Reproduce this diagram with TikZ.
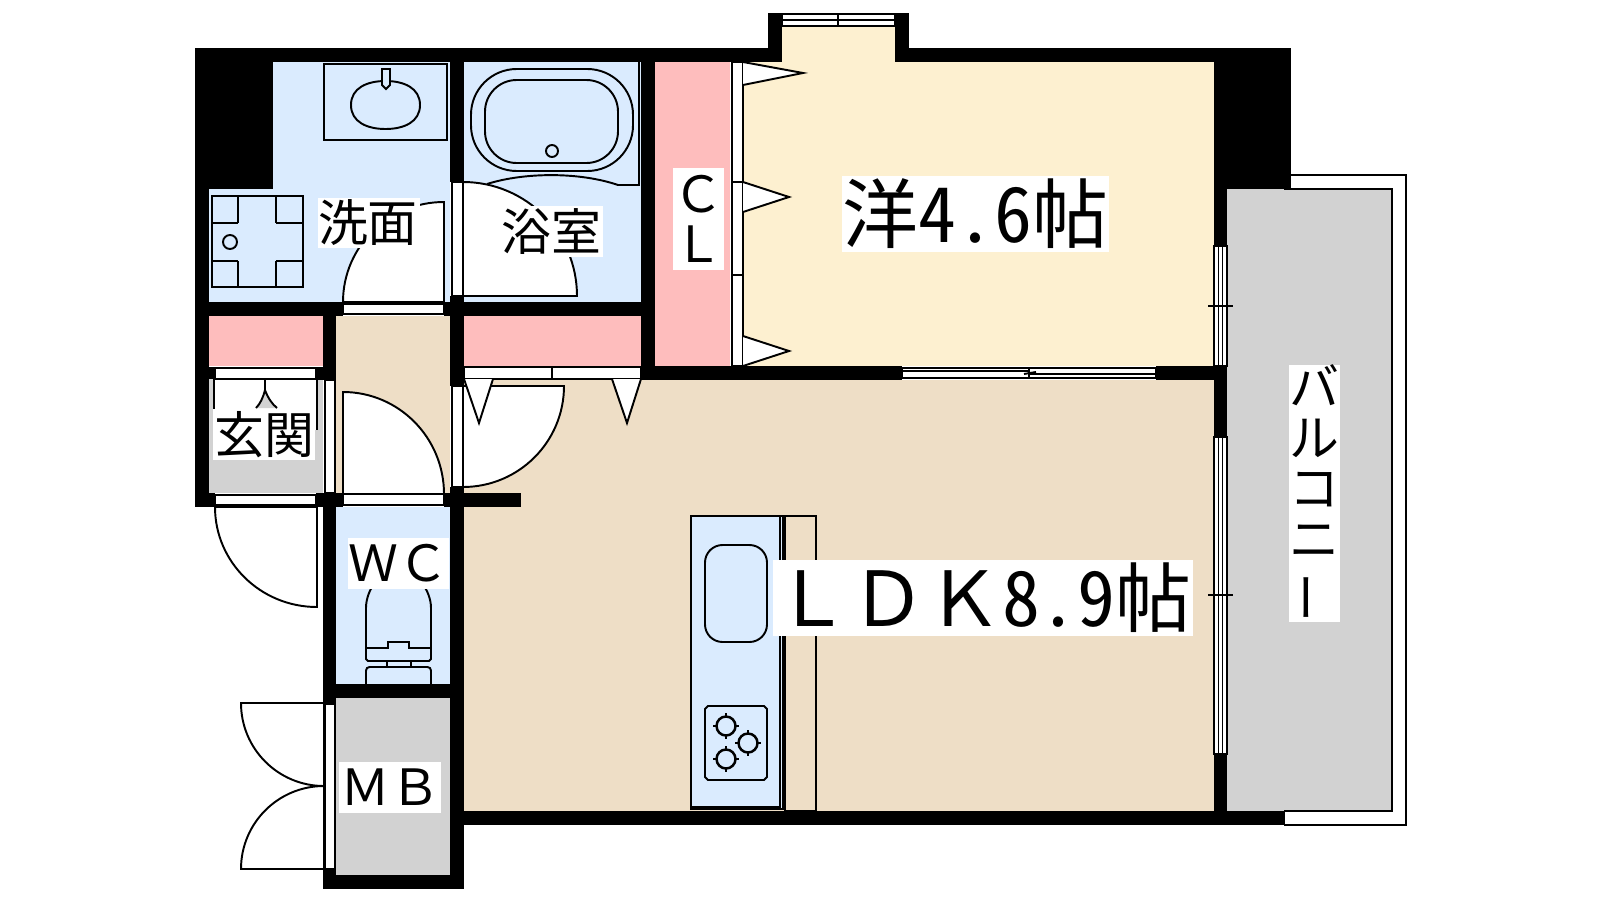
\documentclass[tikz,border=0pt]{standalone}
\usepackage{fontspec}
\newfontfamily\jpfont{Noto Sans CJK JP}
\newfontfamily\halffont[RawFeature={+hwid}]{Noto Sans CJK JP}
\usepackage{tikz}
\definecolor{washblue}{HTML}{DAEBFE}
\definecolor{floorbeige}{HTML}{EEDEC6}
\definecolor{roomcream}{HTML}{FDF0D0}
\definecolor{closetpink}{HTML}{FEBDBD}
\definecolor{slabgray}{HTML}{D2D2D2}
\tikzstyle{line}=[draw=black, line width=0.55pt]
\tikzstyle{frame}=[fill=white, draw=black, line width=0.55pt]
\tikzstyle{roomtag}=[fill=white, inner sep=0pt, font=\jpfont\fontsize{14.2}{14.4}\selectfont, align=center, text=black]
\tikzstyle{bigtag}=[fill=white, inner sep=0pt, font=\jpfont\fontsize{21.6}{22}\selectfont, text=black, minimum height=76*0.01cm]
% door leaf: hinge x, hinge y, reach in x, reach in y
\newcommand{\doorleaf}[4]{
  \draw[frame] (#1,#2) -- (#1,{#2+#4})
    .. controls ({#1+.5523*#3},{#2+#4}) and ({#1+#3},{#2+.5523*#4}) .. ({#1+#3},#2) -- cycle;
}

\begin{document}
\begin{tikzpicture}[x=0.01cm, y=-0.01cm]
        \useasboundingbox (0,0) rectangle (1600,900);

        % Floors
        \fill[floorbeige] (464,380) rectangle (1214,811);
        \fill[floorbeige] (336,316) rectangle (450,493);
        \fill[roomcream] (743,62) rectangle (1214,366);
        \fill[roomcream] (782,27) rectangle (895,62);
        \fill[washblue] (273,62) -- (450,62) -- (450,302) -- (209,302) -- (209,189) -- (273,189) -- cycle;
        \fill[washblue] (464,62) rectangle (641,302);
        \fill[washblue] (336,507) rectangle (450,684);
        \fill[closetpink] (655,62) rectangle (730,366);
        \fill[closetpink] (209,316) rectangle (323,366);
        \fill[closetpink] (464,316) rectangle (641,366);
        \fill[slabgray] (209,379) rectangle (323,493);
        \fill[slabgray] (336,698) rectangle (450,875);
        \fill[slabgray] (1227,189) rectangle (1392,811);

        % Balcony rail
        \draw[line] (1291,175) -- (1406,175) -- (1406,825) -- (1284,825);
        \draw[line] (1284,189) -- (1392,189) -- (1392,811) -- (1284,811);

        % Entrance shoe closet
        \fill[white] (214,379) rectangle (317,430);
        \draw[line] (214,379) -- (214,409);
        \draw[line] (317,379) -- (317,430);
        \fill[slabgray] (265,390) .. controls (263,398) and (260,404) .. (256,408) -- (277,408)
          .. controls (272,404) and (268,398) .. (265,390) -- cycle;
        \draw[line] (256,408) .. controls (260,404) and (263,398) .. (265,390) -- (265,379)
          (265,390) .. controls (268,398) and (272,404) .. (277,408);

        % Doors
        \doorleaf{444}{302}{-101}{-100}
        \doorleaf{463}{296}{114}{-114}
        \doorleaf{343}{494}{101}{-102}
        \doorleaf{463}{386}{101}{101}
        \doorleaf{317}{507}{-102}{100}
        \doorleaf{324}{703}{-83}{83}
        \doorleaf{324}{869}{-83}{-83}

        % Walls
        \foreach \xa/\ya/\xb/\yb in {195/48/782/62, 895/48/1291/62, 768/13/782/62, 895/13/909/62,
            195/48/273/189, 195/48/209/507, 1214/48/1291/189, 1214/48/1227/246, 1214/366/1227/437,
            1214/754/1227/825, 450/811/1285/825, 209/302/343/316, 444/302/655/316, 323/302/336/380,
            316/367/336/380, 209/367/215/379, 450/48/464/182, 450/296/464/386, 641/48/655/380,
            641/366/902/380, 1156/366/1214/380, 195/493/215/507, 316/493/343/507, 444/493/521/507,
            323/493/336/703, 323/869/336/889, 450/487/464/889, 323/684/464/698, 323/875/464/889}
          \fill[black] (\xa,\ya) rectangle (\xb,\yb);

        % Door and closet frames
        \foreach \xa/\ya/\xb/\yb in {343/304/444/314, 452/182/463/296, 215/368/316/379, 325/380/335/493,
            452/386/463/487, 464/367/552/379, 552/367/641/379, 215/495/316/505, 343/494/444/505,
            325/704/335/869, 732/62/743/182, 732/182/743/275, 732/275/743/366}
          \draw[frame] (\xa,\ya) rectangle (\xb,\yb);

        % Folding door leaves
        \draw[frame] (743,62) -- (803,73) -- (743,85);
        \draw[frame] (743,182) -- (789,197) -- (743,212);
        \draw[frame] (743,336) -- (789,351) -- (743,366);
        \draw[frame] (464,379) -- (479,423) -- (493,379);
        \draw[frame] (612,379) -- (627,423) -- (641,379);

        % Windows
        \draw[frame] (782,14) rectangle (895,26);
        \draw[line] (782,20) -- (895,20) (838,14) -- (838,26);
        \draw[frame] (902,368) rectangle (1156,378);
        \draw[line] (902,371) -- (1029,371) (1029,374) -- (1156,374) (1029,368) -- (1029,378) (1024,374) -- (1036,372);
        \foreach \ya/\yb/\ytick in {246/366/306, 437/754/595} {
          \draw[frame] (1214,\ya) rectangle (1227,\yb);
          \draw[line] (1218.5,\ya) -- (1218.5,\yb) (1222.5,\ya) -- (1222.5,\yb);
          \draw[line] (1208,\ytick) -- (1233,\ytick);
        }

        % Washroom fittings
        \draw[line] (324,64) rectangle (447,140);
        \draw[line] (351,105) .. controls (351,88) and (367,81) .. (385.5,81) .. controls (404,81) and (420,88) .. (420,105)
          .. controls (420,122) and (404,129) .. (385.5,129) .. controls (367,129) and (351,122) .. (351,105) -- cycle;
        \draw[line, fill=washblue] (382,69) -- (390,69) -- (390,85) -- (386,89) -- (382,85) -- cycle;
        \draw[line] (212,196) rectangle (303,287);
        \foreach \xa/\ya/\xb/\yb in {212/223/238/223, 238/196/238/223, 276/196/276/223, 276/223/303/223,
            212/261/238/261, 238/261/238/287, 276/261/276/287, 276/261/303/261}
          \draw[line] (\xa,\ya) -- (\xb,\yb);
        \draw[line] (230,242) circle [radius=7];

        % Bath
        \draw[line] (471,69) [rounded corners=13pt] -- (633,69) -- (633,171) -- (471,171) -- cycle;
        \draw[line] (485,80) [rounded corners=9pt] -- (618,80) -- (618,163) -- (485,163) -- cycle;
        \draw[line] (552,151) circle [radius=6];
        \draw[line] (639,62) -- (639,185) -- (618,185) .. controls (580,172) and (525,172) .. (487,184);

        % Toilet
        \draw[line] (366,648) -- (366,608) .. controls (366,590) and (380,570) .. (398,570)
          .. controls (416,570) and (431,590) .. (431,608) -- (431,648);
        \draw[line] (366,648) -- (388,648) -- (388,642) -- (409,642) -- (409,648) -- (431,648)
          -- (431,659) -- (429,661) -- (368,661) -- (366,659) -- cycle;
        \draw[line] (387,661) rectangle (411,667);
        \draw[line, rounded corners=1pt] (366,684) -- (366,667) -- (431,667) -- (431,684);

        % Kitchen
        \draw[line] (785,516) rectangle (816,811);
        \draw[frame, fill=washblue] (691,516) rectangle (783,809);
        \draw[line] (780,516) -- (780,807) -- (691,807);
        \draw[line, rounded corners=5pt] (705,545) rectangle (767,642);
        \draw[line] (708,706) -- (764,706) -- (767,709) -- (767,777) -- (764,780) -- (708,780) -- (705,777) -- (705,709) -- cycle;
        \foreach \x/\y in {726/726, 748/743, 726/759} {
          \draw[line, line width=0.7pt] (\x,\y) circle [radius=9.5];
          \foreach \dx/\dy in {1/0, -1/0, 0/1, 0/-1}
            \draw[line] ({\x+8*\dx},{\y+8*\dy}) -- ({\x+13*\dx},{\y+13*\dy});
        }

        % Text
        \node at (369,223) [roomtag, minimum width=102*0.01cm, minimum height=50*0.01cm] (wash) {\kern-0.6pt洗面};
        \node at (553,231.5) [roomtag, minimum width=100*0.01cm, minimum height=51*0.01cm] (bath) {\kern-0.8pt浴室};
        \node at (698.5,219) [roomtag, minimum width=51*0.01cm, minimum height=102*0.01cm] (closet) {Ｃ\\Ｌ};
        \node at (264,434.5) [roomtag, minimum width=102*0.01cm, minimum height=51*0.01cm] (entry) {玄関};
        \node at (398.5,563.5) [roomtag, minimum width=101*0.01cm, minimum height=51*0.01cm] (wc) {ＷＣ};
        \node at (390,787.5) [roomtag, minimum width=102*0.01cm, minimum height=51*0.01cm] (mb) {ＭＢ};
        \node at (1314.5,493.5) [roomtag, minimum width=51*0.01cm, minimum height=255*0.01cm] (balcony)
          {バ\\ル\\コ\\ニ\\\rotatebox[origin=c]{90}{ー}};
        \node at (975.5,214) [bigtag, minimum width=267*0.01cm] (western) {洋{\halffont 4.6}帖};
        \node at (983,598) [bigtag, minimum width=420*0.01cm] (ldk) {ＬＤＫ{\halffont 8.9}帖};
\end{tikzpicture}
\end{document}
